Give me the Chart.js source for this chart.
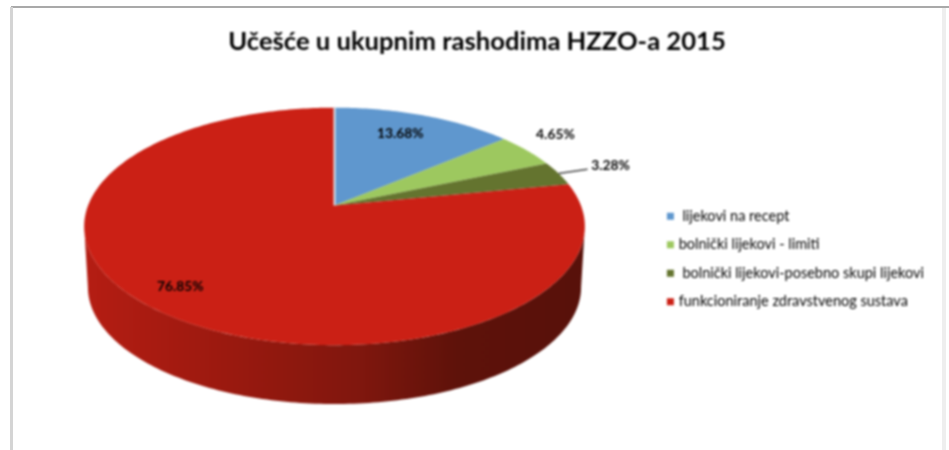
<!DOCTYPE html>
<html>
<head>
<meta charset="utf-8">
<title>HZZO 2015</title>
<script src="https://cdn.jsdelivr.net/npm/chart.js@4"></script>
<style>
  html, body { margin: 0; padding: 0; background: #fff; overflow: hidden; }
  #wrap { position: relative; width: 949px; height: 450px; }
  #pieChart { position: absolute; left: 0; top: 0; filter: blur(0.8px); }
  .frame { position: absolute; }
  #frameTop { left: 11px; top: 6px; width: 938px; height: 2px; background: #a9a9a9; }
  #frameLeft { left: 10px; top: 7px; width: 3px; height: 443px; background: #d4d4d4; }
  #frameRight { left: 942px; top: 8px; width: 4px; height: 442px; background: #eeeeee; }
</style>
</head>
<body>
<div id="wrap">
  <div class="frame" id="frameTop"></div>
  <div class="frame" id="frameLeft"></div>
  <div class="frame" id="frameRight"></div>
  <canvas id="pieChart" width="949" height="450"></canvas>
</div>
<script>
var chart_title = "Učešće u ukupnim rashodima HZZO-a 2015";
var categories = ["lijekovi na recept", "bolnički lijekovi - limiti", "bolnički lijekovi-posebno skupi lijekovi", "funkcioniranje zdravstvenog sustava"];
var shares = [13.68, 4.65, 3.28, 76.85];
var slice_colors = ["#5f97ce", "#9dc85f", "#64742f", "#cb2015"];

// the pie is tilted: radius fractions on screen, and perspective strength
var tilt_x = 1.2825, tilt_y = 0.5987, perspective = 0.1765;
var apex_shift_x = -3.2, apex_shift_y = -52.4;
var wall_depth = 61, wall_shrink = 0.985;
var legend_shift_y = 34;

// label position per slice: angle correction (degrees), radius fraction
var label_angle = [-1.8, -3.0, -0.3, 2.0];
var label_radius = [0.76, 1.22, 1.25, 0.84];

function project(arc, angle, r, depth, scale) {
    var x = r * Math.cos(angle);
    var y = r * Math.sin(angle);
    var d = 1 - perspective * y;
    return {
        x: arc.x + apex_shift_x + scale * arc.outerRadius * tilt_x * x / d,
        y: arc.y + apex_shift_y + depth + scale * arc.outerRadius * tilt_y * y / d
    };
}

function traceRim(ctx, arc, a0, a1, depth, scale) {
    var steps = Math.max(2, Math.ceil(Math.abs(a1 - a0) * 60));
    for (var i = 0; i <= steps; i++) {
        var p = project(arc, a0 + (a1 - a0) * i / steps, 1, depth, scale);
        ctx.lineTo(p.x, p.y);
    }
}

var tiltedPie = {
    id: "tiltedPie",
    afterLayout: function(chart) {
        chart.legend.top += legend_shift_y;
        chart.legend.bottom += legend_shift_y;
    },
    beforeDatasetDraw: function(chart) {
        var ctx = chart.ctx;
        var arcs = chart.getDatasetMeta(0).data;
        var first = arcs[0];
        var left = project(first, Math.PI, 1, 0, 1).x;
        var right = project(first, 0, 1, 0, 1).x;

        var shade = ctx.createLinearGradient(left, 0, right, 0);
        shade.addColorStop(0, "#b41d13");
        shade.addColorStop(0.3, "#99190f");
        shade.addColorStop(0.55, "#80170e");
        shade.addColorStop(0.75, "#5e120a");
        shade.addColorStop(1, "#58110a");

        // side wall only shows between the two silhouette angles
        var wall_from = Math.asin(perspective);
        var wall_to = Math.PI - wall_from;
        arcs.forEach(function(arc) {
            var a0 = Math.max(arc.startAngle, wall_from);
            var a1 = Math.min(arc.endAngle, wall_to);
            if (a1 <= a0) return;
            ctx.beginPath();
            traceRim(ctx, arc, a0, a1, 0, 1);
            traceRim(ctx, arc, a1, a0, wall_depth, wall_shrink);
            ctx.closePath();
            ctx.fillStyle = shade;
            ctx.fill();
        });

        arcs.forEach(function(arc, i) {
            var apex = project(arc, 0, 0, 0, 1);
            ctx.beginPath();
            ctx.moveTo(apex.x, apex.y);
            traceRim(ctx, arc, arc.startAngle, arc.endAngle, 0, 1);
            ctx.closePath();
            ctx.fillStyle = slice_colors[i];
            ctx.fill();
        });

        // pale edge where the first slice starts
        var apex = project(first, 0, 0, 0, 1);
        var top = project(first, first.startAngle, 1, 0, 1);
        ctx.beginPath();
        ctx.moveTo(apex.x, apex.y);
        ctx.lineTo(top.x, top.y);
        ctx.strokeStyle = "#dfe3e6";
        ctx.lineWidth = 2;
        ctx.stroke();

        ctx.font = "bold 13.8px Lato";
        ctx.textAlign = "center";
        ctx.textBaseline = "middle";
        arcs.forEach(function(arc, i) {
            var mid = (arc.startAngle + arc.endAngle) / 2;
            var p = project(arc, mid + label_angle[i] * Math.PI / 180, label_radius[i], 0, 1);
            if (label_radius[i] > 1.24) {
                var from = project(arc, mid, 1, 0, 1);
                ctx.beginPath();
                ctx.moveTo(from.x, from.y);
                ctx.lineTo(p.x - 23, p.y + 4);
                ctx.strokeStyle = "#444444";
                ctx.lineWidth = 1.5;
                ctx.stroke();
            }
            ctx.fillStyle = "#000000";
            ctx.fillText(shares[i].toFixed(2) + "%", p.x, p.y);
        });
        return false;
    }
};

new Chart(document.getElementById("pieChart"), {
    type: "pie",
    data: {
        labels: categories,
        datasets: [{ data: shares, backgroundColor: slice_colors, borderWidth: 0 }]
    },
    plugins: [tiltedPie],
    options: {
        responsive: false,
        animation: false,
        layout: { padding: { left: 20, right: 15, top: 0, bottom: 0 } },
        plugins: {
            tooltip: { enabled: false },
            title: {
                display: true,
                text: chart_title,
                color: "#000000",
                font: { family: "Lato", size: 25.6, weight: "bold" },
                padding: { top: 26, bottom: 9 }
            },
            legend: {
                position: "right",
                labels: {
                    // narrow box with a square point, the text sits close to its marker
                    usePointStyle: true,
                    boxWidth: 2,
                    boxHeight: 7,
                    padding: 14,
                    color: "#1c1c1c",
                    font: { family: "Lato", size: 14.5 },
                    // the odd rows sit a little further from their marker in the original
                    generateLabels: function(chart) {
                        return categories.map(function(name, i) {
                            return {
                                text: (i % 2 == 0 ? " " : "") + name,
                                fillStyle: slice_colors[i],
                                strokeStyle: slice_colors[i],
                                lineWidth: 0,
                                pointStyle: "rect",
                                index: i
                            };
                        });
                    }
                }
            }
        }
    }
});
</script>
</body>
</html>
